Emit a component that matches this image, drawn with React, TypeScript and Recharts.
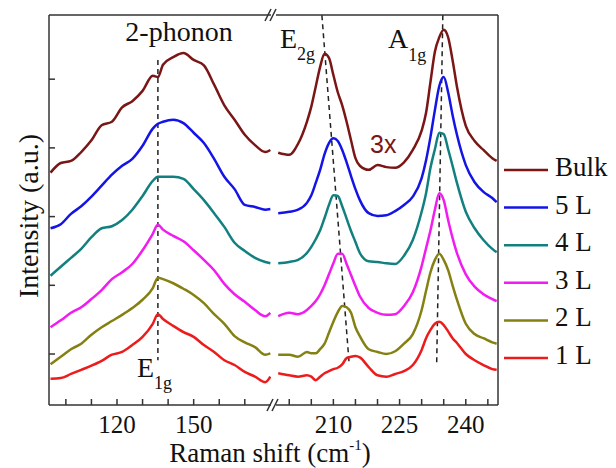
import React from 'react';
import { LineChart, Line, XAxis, YAxis, ReferenceLine } from 'recharts';

// wavenumbers (cm-1) of the two panels of the broken axis
const LEFT_X = [94, 98, 102, 106, 110, 114, 118, 122, 126, 130, 134, 136, 138, 142, 146, 150, 154, 158, 162, 166, 170, 174, 178, 180];
const RIGHT_X = [197.5, 200, 202, 204, 205, 206, 207, 208, 209, 210, 211, 212, 213, 214, 215, 216, 218, 220, 222, 224, 226, 228, 230, 231, 232, 233, 234, 235, 236, 237, 238, 240, 242, 244, 246, 247];

// stacked intensities (a.u., offset per sample)
const BULK_LEFT = [2.64, 2.78, 2.81, 2.94, 3.11, 3.33, 3.38, 3.59, 3.68, 3.83, 4.05, 4.03, 4.21, 4.32, 4.38, 4.28, 4.2, 3.92, 3.62, 3.41, 3.19, 3.04, 2.94, 2.97];
const L5_LEFT = [1.83, 1.89, 2.04, 2.15, 2.29, 2.45, 2.61, 2.74, 2.84, 3.03, 3.28, 3.35, 3.38, 3.41, 3.36, 3.22, 3.07, 2.84, 2.58, 2.4, 2.17, 2.14, 2.1, 2.11];
const L4_LEFT = [1.14, 1.27, 1.4, 1.53, 1.7, 1.83, 1.86, 1.95, 2.1, 2.3, 2.52, 2.58, 2.58, 2.58, 2.55, 2.4, 2.24, 2.05, 1.85, 1.62, 1.5, 1.4, 1.34, 1.32];
const L3_LEFT = [0.39, 0.49, 0.6, 0.68, 0.8, 0.93, 1.09, 1.19, 1.31, 1.51, 1.75, 1.88, 1.81, 1.72, 1.64, 1.51, 1.37, 1.22, 1.02, 0.87, 0.76, 0.64, 0.55, 0.6];
const L2_LEFT = [-0.15, -0.04, 0.07, 0.15, 0.28, 0.39, 0.48, 0.57, 0.67, 0.79, 0.96, 1.11, 1.09, 1.03, 0.95, 0.86, 0.74, 0.58, 0.44, 0.26, 0.17, 0.1, -0.01, 0.01];
const L1_LEFT = [-0.36, -0.35, -0.29, -0.23, -0.17, -0.1, -0.01, 0.03, 0.13, 0.25, 0.44, 0.58, 0.51, 0.41, 0.32, 0.25, 0.13, 0.03, -0.09, -0.16, -0.26, -0.33, -0.41, -0.33];

const BULK_RIGHT = [2.93, 2.9, 3.06, 3.38, 3.6, 3.89, 4.18, 4.37, 4.31, 4.06, 3.81, 3.62, 3.38, 3.11, 2.85, 2.74, 2.68, 2.75, 2.72, 2.71, 2.79, 2.97, 3.25, 3.51, 3.96, 4.4, 4.61, 4.72, 4.61, 4.28, 3.89, 3.32, 3.1, 2.97, 2.85, 2.81];
const L5_RIGHT = [2.05, 2.07, 2.1, 2.2, 2.31, 2.49, 2.68, 2.91, 3.07, 3.14, 3.1, 2.97, 2.79, 2.59, 2.4, 2.24, 2.05, 2.01, 2.02, 2.08, 2.17, 2.29, 2.56, 2.82, 3.16, 3.55, 3.9, 4.03, 3.81, 3.48, 3.19, 2.75, 2.5, 2.36, 2.27, 2.21];
const L4_RIGHT = [1.32, 1.34, 1.37, 1.47, 1.56, 1.67, 1.8, 1.98, 2.17, 2.31, 2.3, 2.15, 1.97, 1.79, 1.63, 1.47, 1.35, 1.34, 1.32, 1.31, 1.43, 1.66, 2.07, 2.34, 2.71, 2.98, 3.22, 3.2, 2.98, 2.74, 2.49, 2.07, 1.83, 1.66, 1.53, 1.48];
const L3_RIGHT = [0.55, 0.6, 0.58, 0.64, 0.7, 0.77, 0.87, 1.0, 1.16, 1.32, 1.46, 1.46, 1.31, 1.15, 0.99, 0.84, 0.67, 0.6, 0.57, 0.58, 0.7, 0.9, 1.28, 1.54, 1.8, 2.1, 2.34, 2.24, 1.95, 1.69, 1.47, 1.16, 0.98, 0.87, 0.8, 0.77];
const L2_RIGHT = [-0.01, -0.01, -0.04, 0.03, 0.01, 0.01, 0.07, 0.15, 0.31, 0.47, 0.61, 0.7, 0.68, 0.6, 0.39, 0.26, 0.07, 0.03, 0.0, 0.04, 0.15, 0.29, 0.64, 0.92, 1.19, 1.37, 1.46, 1.37, 1.22, 1.0, 0.79, 0.44, 0.29, 0.23, 0.17, 0.15];
const L1_RIGHT = [-0.28, -0.31, -0.33, -0.31, -0.33, -0.38, -0.33, -0.28, -0.25, -0.22, -0.2, -0.15, -0.06, -0.04, -0.03, -0.05, -0.19, -0.31, -0.33, -0.29, -0.25, -0.16, 0.06, 0.23, 0.35, 0.44, 0.47, 0.42, 0.33, 0.23, 0.16, 0.0, -0.09, -0.16, -0.22, -0.23];

const LEFT_TICKS = [100, 110, 120, 130, 140, 150, 160, 170];
const LEFT_LABELS = [120, 150];
const RIGHT_TICKS = [200, 205, 210, 215, 220, 225, 230, 235, 240, 245];
const RIGHT_LABELS = [210, 225, 240];
const Y_TICKS = [0, 1, 2, 3, 4];

// dashed guides: E1g, E2g, A1g
const E1G = [[136, 4.28], [136, -0.09]];
const E2G = [[207.4, 4.93], [213.6, -0.16]];
const A1G = [[234.8, 4.93], [233.4, -0.16]];

const SERIES = [
  { key: 'bulk', name: 'Bulk', color: '#7a1616' },
  { key: 'l5', name: '5 L', color: '#1414e6' },
  { key: 'l4', name: '4 L', color: '#138080' },
  { key: 'l3', name: '3 L', color: '#f01cf0' },
  { key: 'l2', name: '2 L', color: '#858012' },
  { key: 'l1', name: '1 L', color: '#ec1c1c' },
];

const leftRows = LEFT_X.map((x, i) => ({
  x, bulk: BULK_LEFT[i], l5: L5_LEFT[i], l4: L4_LEFT[i], l3: L3_LEFT[i], l2: L2_LEFT[i], l1: L1_LEFT[i],
}));
const rightRows = RIGHT_X.map((x, i) => ({
  x, bulk: BULK_RIGHT[i], l5: L5_RIGHT[i], l4: L4_RIGHT[i], l3: L3_RIGHT[i], l2: L2_RIGHT[i], l1: L1_RIGHT[i],
}));

const Y_MIN = -0.742;
const Y_MAX = 4.934;
const FONT = "'Times New Roman', 'Liberation Serif', 'DejaVu Serif', serif";
const AXIS = '#333';
const tickStyle = { fill: '#111', fontSize: 25, fontFamily: FONT };
const seg = (p: number[][]) => [{ x: p[0][0], y: p[0][1] }, { x: p[1][0], y: p[1][1] }];

const lines = SERIES.map((s) => (
  <Line key={s.key} type="monotone" dataKey={s.key} stroke={s.color} strokeWidth={2.5} dot={false} isAnimationActive={false} />
));

const guide = { stroke: '#222', strokeWidth: 1.5, strokeDasharray: '5 4' };

export default function App() {
  return (
    <div style={{ position: 'absolute', left: 0, top: 0, width: 616, height: 468, background: '#fff', fontFamily: FONT }}>
      <LineChart width={271} height={468} data={leftRows} margin={{ top: 15, right: 0, bottom: 0, left: 0 }}
        style={{ position: 'absolute', left: 0, top: 0 }}>
        <XAxis type="number" dataKey="x" domain={[93.4, 180.25]} allowDataOverflow ticks={LEFT_TICKS} interval={0}
          height={63} tickSize={-6} tickMargin={16} stroke={AXIS} strokeWidth={1.5} tick={tickStyle}
          tickFormatter={(v: number) => (LEFT_LABELS.includes(v) ? String(v) : '')} />
        <YAxis type="number" domain={[Y_MIN, Y_MAX]} allowDataOverflow ticks={Y_TICKS} interval={0} width={49}
          tickSize={-6} stroke={AXIS} strokeWidth={1.5} tickFormatter={() => ''} />
        <ReferenceLine y={Y_MAX} stroke={AXIS} strokeWidth={1.5} />
        <ReferenceLine segment={seg(E1G)} {...guide} />
        {lines}
      </LineChart>

      <LineChart width={224} height={468} data={rightRows} margin={{ top: 15, right: 0, bottom: 0, left: 0 }}
        style={{ position: 'absolute', left: 276, top: 0 }}>
        <XAxis type="number" dataKey="x" domain={[197.0, 247.3]} allowDataOverflow ticks={RIGHT_TICKS} interval={0}
          height={63} tickSize={-6} tickMargin={16} stroke={AXIS} strokeWidth={1.5} tick={tickStyle}
          tickFormatter={(v: number) => (RIGHT_LABELS.includes(v) ? String(v) : '')} />
        <YAxis type="number" orientation="right" domain={[Y_MIN, Y_MAX]} allowDataOverflow width={2}
          tick={false} tickLine={false} stroke={AXIS} strokeWidth={1.5} />
        <ReferenceLine y={Y_MAX} stroke={AXIS} strokeWidth={1.5} />
        <ReferenceLine segment={seg(E2G)} {...guide} />
        <ReferenceLine segment={seg(A1G)} {...guide} />
        {lines}
      </LineChart>

      <svg width={616} height={468} style={{ position: 'absolute', left: 0, top: 0, pointerEvents: 'none' }}
        fontFamily={FONT} fill="#111">
        {/* axis break marks */}
        <g stroke={AXIS} strokeWidth={1.5}>
          <line x1={265} y1={21} x2={271} y2={9} />
          <line x1={270} y1={21} x2={276} y2={9} />
          <line x1={267} y1={411} x2={273} y2={399} />
          <line x1={272} y1={411} x2={278} y2={399} />
        </g>

        <text x={179} y={41} fontSize={28} textAnchor="middle">2-phonon</text>
        <text x={280} y={48} fontSize={28}>E<tspan dy={12} fontSize={18}>2g</tspan></text>
        <text x={388} y={48} fontSize={28}>A<tspan dy={13} fontSize={18}>1g</tspan></text>
        <text x={137} y={377} fontSize={28}>E<tspan dy={12} fontSize={18}>1g</tspan></text>
        <text x={370} y={153} fontSize={25} fill="#7a1616" fontFamily="'Liberation Sans', Arial, sans-serif">3x</text>

        <text x={270} y={462} fontSize={27} textAnchor="middle">
          Raman shift (cm<tspan dy={-12} fontSize={15}>-1</tspan><tspan dy={12}>)</tspan>
        </text>
        <text x={38} y={216} fontSize={28} textAnchor="middle" transform="rotate(-90 38 216)">Intensity (a.u.)</text>

        {SERIES.map((s, i) => {
          const y = 170 + i * 37.6;
          return (
            <g key={s.key}>
              <line x1={504} x2={548} y1={y} y2={y} stroke={s.color} strokeWidth={2.5} />
              <text x={555} y={y + 6} fontSize={27}>{s.name}</text>
            </g>
          );
        })}
      </svg>
    </div>
  );
}
